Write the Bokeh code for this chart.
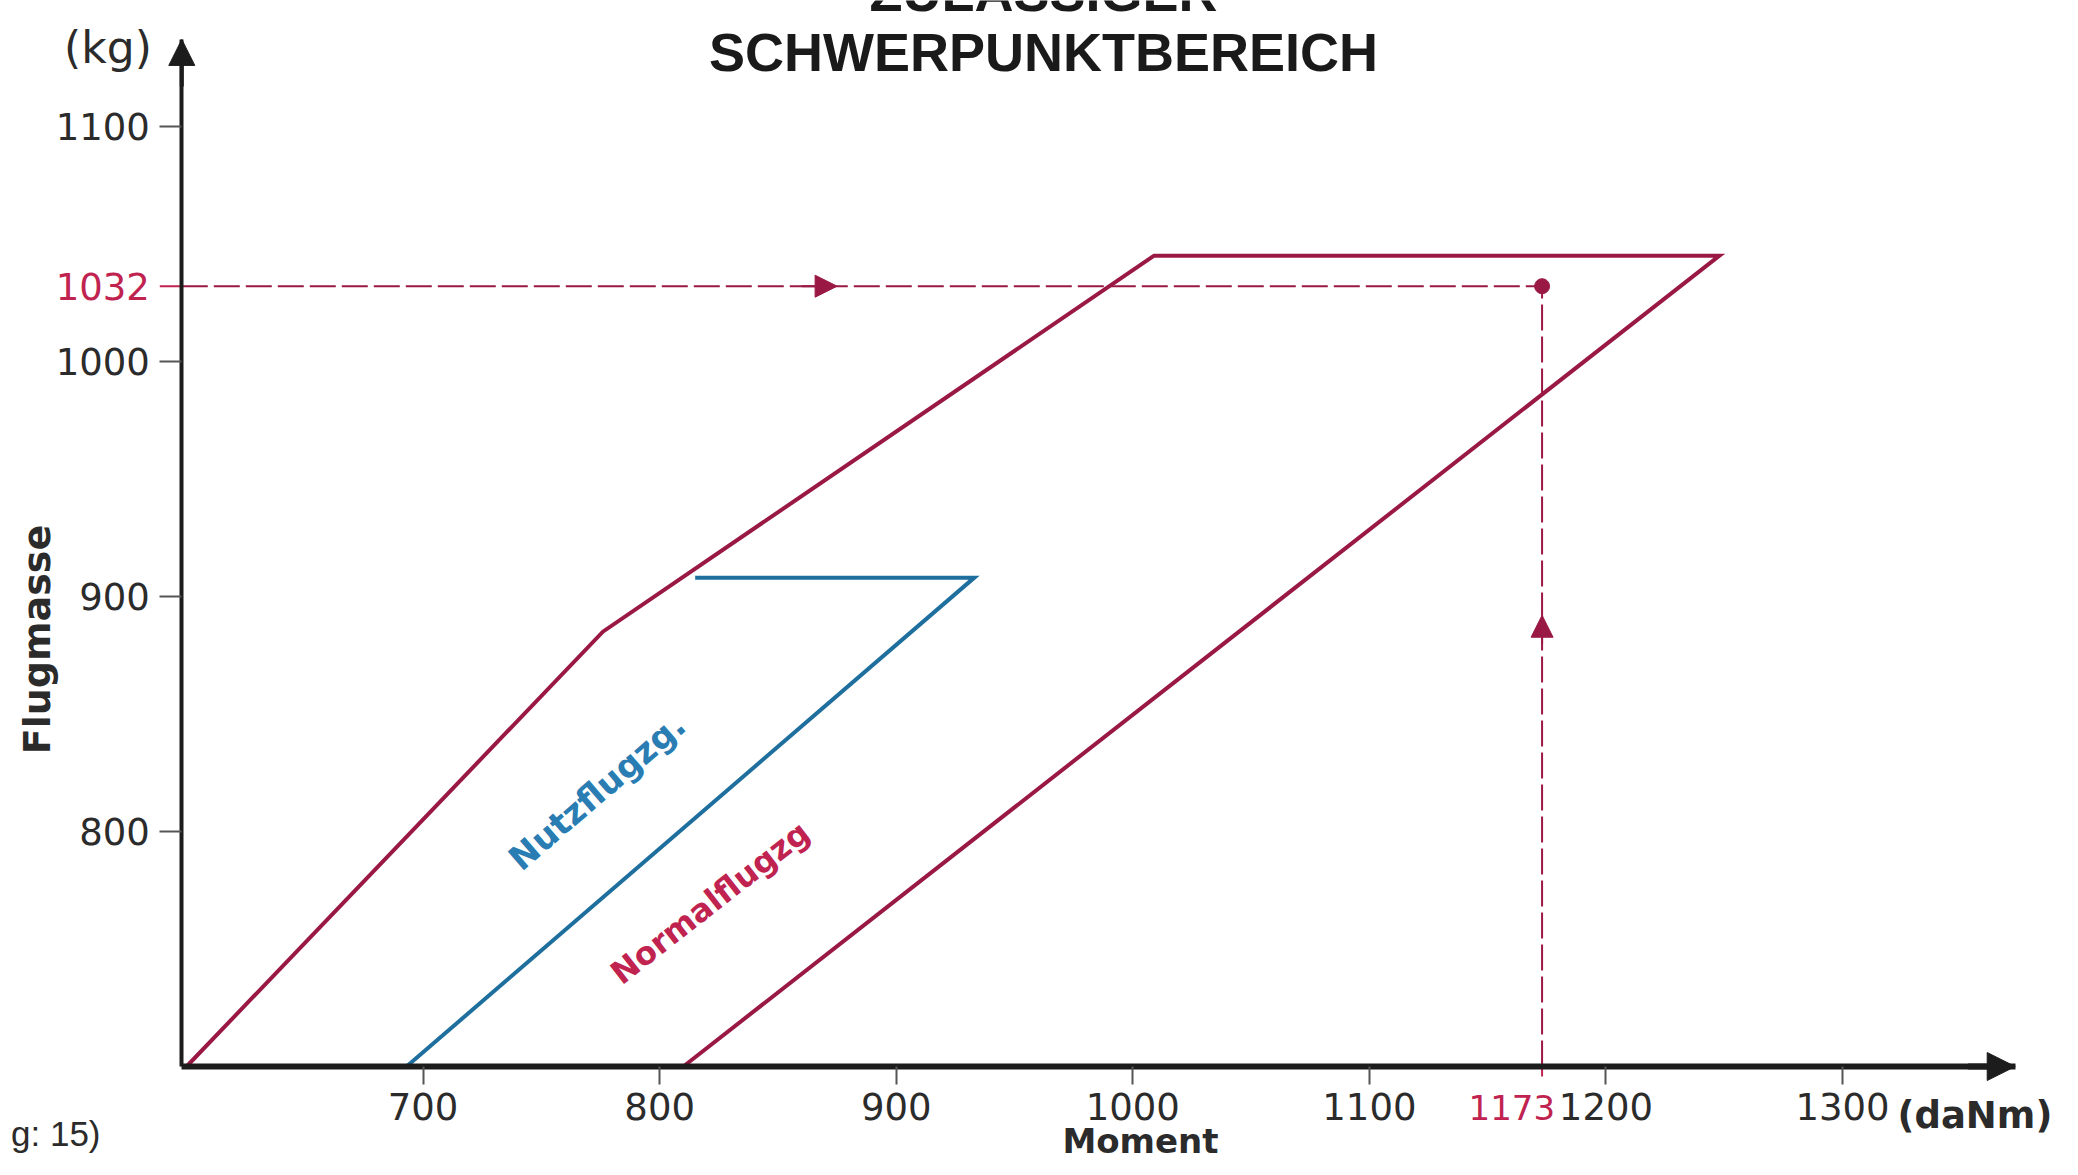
import math
from bokeh.plotting import figure
from bokeh.models import Range1d, FixedTicker, Label, Arrow, NormalHead, LinearAxis
from bokeh.embed import file_html
from bokeh.resources import INLINE

# ---- data ----
x_ticks = [700, 800, 900, 1000, 1100, 1200, 1300]
y_ticks = [800, 900, 1000, 1100]
normal_moment = [600, 776, 1009, 1248, 810]
normal_mass = [700, 885, 1045, 1045, 700]
utility_moment = [693, 933, 815]
utility_mass = [700, 908, 908]
example_moment = 1173
example_mass = 1032
x_unit = "(daNm)"
y_unit = "(kg)"

RED = "#9a1944"
RED_TXT = "#c0234f"
BLUE = "#1f6f9e"
BLUE_TXT = "#2a7db3"
AX = "#1c1c1c"
TXT = "#2b2b2b"

W, H = 2062, 1159
# axis origin and arrow tips (data units)
X0, XTIP = 598, 1373
Y0, YTIP = 700, 1137
# pixel scale of the drawing
SX, SY = 2.3657, 2.3503
OX, OY = 181.3, 1066.0   # canvas position of the origin

x_start = X0 - OX / SX
x_end = X0 + (W - OX) / SX
y_start = Y0 - (H - OY) / SY
y_end = Y0 + OY / SY

def cx(px):
    return X0 + (px - OX) / SX

def cy(py):
    return Y0 + (OY - py) / SY

p = figure(width=W, height=H, output_backend="svg", toolbar_location=None,
           x_range=Range1d(x_start, x_end), y_range=Range1d(y_start, y_end),
           x_axis_type=None, y_axis_type=None, min_border=0)
p.min_border_left = 0
p.min_border_right = 0
p.min_border_top = 0
p.min_border_bottom = 0
p.outline_line_color = None
p.grid.visible = False
p.background_fill_color = "white"
p.border_fill_color = "white"

TICK_FONT = "DejaVu Sans"
TICK_SIZE = "37px"

xaxis = LinearAxis(ticker=FixedTicker(ticks=x_ticks), fixed_location=Y0, bounds=(X0, XTIP))
xaxis.axis_line_width = 6
xaxis.axis_line_color = AX
xaxis.major_tick_out = 18
xaxis.major_tick_in = 0
xaxis.major_tick_line_width = 2
xaxis.major_tick_line_color = "#555555"
xaxis.minor_tick_out = 0
xaxis.minor_tick_in = 0
xaxis.major_label_standoff = 8
xaxis.major_label_text_font = TICK_FONT
xaxis.major_label_text_font_size = TICK_SIZE
xaxis.major_label_text_color = TXT
p.add_layout(xaxis, "below")

yaxis = LinearAxis(ticker=FixedTicker(ticks=y_ticks), fixed_location=X0, bounds=(Y0, YTIP))
yaxis.axis_line_width = 4
yaxis.axis_line_color = AX
yaxis.major_tick_out = 22
yaxis.major_tick_in = 0
yaxis.major_tick_line_width = 2
yaxis.major_tick_line_color = "#555555"
yaxis.minor_tick_out = 0
yaxis.minor_tick_in = 0
yaxis.major_label_standoff = 10
yaxis.major_label_orientation = "horizontal"
yaxis.major_label_text_font = TICK_FONT
yaxis.major_label_text_font_size = TICK_SIZE
yaxis.major_label_text_color = TXT
p.add_layout(yaxis, "left")

# axis arrow heads
p.add_layout(Arrow(end=NormalHead(size=26, fill_color=AX, line_color=AX),
                   x_start=X0, y_start=YTIP - 20, x_end=X0, y_end=YTIP,
                   line_color=AX, line_width=4))
p.add_layout(Arrow(end=NormalHead(size=28, fill_color=AX, line_color=AX),
                   x_start=XTIP - 20, y_start=Y0, x_end=XTIP, y_end=Y0,
                   line_color=AX, line_width=6))

# envelopes
p.line(normal_moment, normal_mass, line_color=RED, line_width=4, line_join="miter")
p.line(utility_moment, utility_mass, line_color=BLUE, line_width=4, line_join="miter")

# example dashed reading lines
p.line([X0, example_moment], [example_mass, example_mass], line_color=RED, line_width=2, line_dash="26 6")
p.line([example_moment, example_moment], [Y0, example_mass], line_color=RED, line_width=2, line_dash="26 6")
p.scatter([example_moment], [example_mass], size=15, color=RED)
p.add_layout(Arrow(end=NormalHead(size=22, fill_color=RED, line_color=RED),
                   x_start=860, y_start=example_mass, x_end=875, y_end=example_mass,
                   line_color=RED, line_width=2))
p.add_layout(Arrow(end=NormalHead(size=22, fill_color=RED, line_color=RED),
                   x_start=example_moment, y_start=880, x_end=example_moment, y_end=892,
                   line_color=RED, line_width=2))
# red ticks for the example values
p.segment(x0=[X0 - 22 / SX], y0=[example_mass], x1=[X0], y1=[example_mass], line_color=RED_TXT, line_width=2)
p.segment(x0=[example_moment], y0=[Y0], x1=[example_moment], y1=[Y0 - 10 / SY], line_color=RED_TXT, line_width=2)

# value labels
p.add_layout(Label(x=X0, y=example_mass, x_offset=-32, text=str(example_mass), text_align="right",
                   text_baseline="middle", text_font=TICK_FONT, text_font_size=TICK_SIZE, text_color=RED_TXT))
p.add_layout(Label(x=example_moment, y=Y0, x_offset=13, y_offset=-28, text=str(example_moment),
                   text_align="right", text_baseline="top", text_font=TICK_FONT,
                   text_font_size="34px", text_color=RED_TXT))
p.add_layout(Label(x=cx(1897), y=Y0, y_offset=-27, text=x_unit, text_align="left",
                   text_baseline="top", text_font="DejaVu Sans", text_font_style="bold",
                   text_font_size="37px", text_color=TXT))
p.add_layout(Label(x=X0, y=cy(47), x_offset=-30, text=y_unit, text_align="right",
                   text_baseline="alphabetic", text_font="DejaVu Sans", text_font_size="44px",
                   text_color=TXT))

# axis titles
p.add_layout(Label(x=cx(36), y=cy(639), text="Flugmasse", angle=math.pi / 2, text_align="center",
                   text_baseline="middle", text_font="DejaVu Sans", text_font_style="bold",
                   text_font_size="38px", text_color=TXT))
p.add_layout(Label(x=cx(1140), y=cy(1140), text="Moment", text_align="center",
                   text_baseline="alphabetic", text_font="DejaVu Sans", text_font_style="bold",
                   text_font_size="34px", text_color=TXT))

# chart title (first line cropped at the top edge as in the original)
p.add_layout(Label(x=cx(1043), y=cy(-9), text="ZULÄSSIGER", text_align="center",
                   text_baseline="alphabetic", text_font="Liberation Sans", text_font_style="bold",
                   text_font_size="54px", text_color="#1a1a1a"))
p.add_layout(Label(x=cx(1043), y=cy(51), text="SCHWERPUNKTBEREICH", text_align="center",
                   text_baseline="alphabetic", text_font="Liberation Sans", text_font_style="bold",
                   text_font_size="54px", text_color="#1a1a1a"))

# curve labels
p.add_layout(Label(x=773.5, y=817, text="Nutzflugzg.", angle=math.radians(40.7), text_align="center",
                   text_baseline="middle", text_font="DejaVu Sans", text_font_style="bold",
                   text_font_size="34px", text_color=BLUE_TXT))
p.add_layout(Label(x=821.3, y=769.7, text="Normalflugzg", angle=math.radians(38), text_align="center",
                   text_baseline="middle", text_font="DejaVu Sans", text_font_style="bold",
                   text_font_size="32px", text_color=RED_TXT))

# cropped caption fragment bottom-left
p.add_layout(Label(x=cx(100), y=cy(1133), text="g: 15)", text_align="right",
                   text_baseline="alphabetic", text_font="Liberation Sans",
                   text_font_size="35px", text_color=TXT))

open("out.html", "w").write(file_html(p, INLINE))
